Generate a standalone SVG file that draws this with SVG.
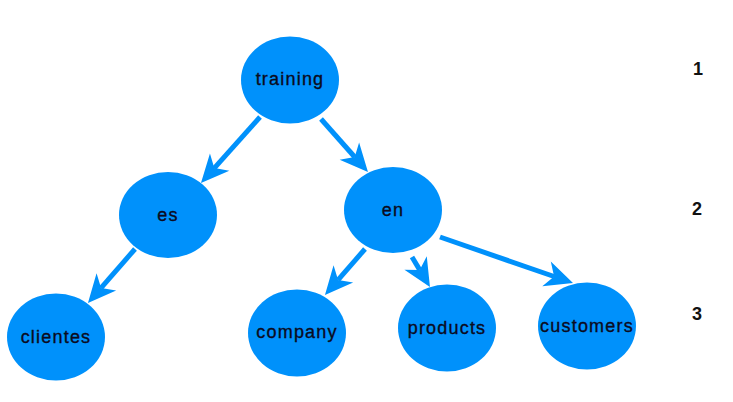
<svg xmlns="http://www.w3.org/2000/svg" width="733" height="402" viewBox="0 0 733 402">
<style>
.node ellipse{fill:#0091fb;}
.node text{font-family:"Liberation Sans",Arial,sans-serif;font-size:18px;letter-spacing:1.2px;fill:#0b0b1e;stroke:#0b0b1e;stroke-width:0.35;text-anchor:middle;}
.edge{stroke:#0091fb;stroke-width:5;fill:none;marker-end:url(#arr);}
.lvl{font-family:"Liberation Sans",Arial,sans-serif;font-size:18px;font-weight:bold;fill:#111;text-anchor:middle;}
</style>
<defs>
<marker id="arr" markerUnits="userSpaceOnUse" markerWidth="40" markerHeight="40" refX="8" refY="0" orient="auto" overflow="visible">
<path d="M0,-13 L28,0 L0,13 L8,0 Z" fill="#0091fb"/>
</marker>
</defs>
<rect width="733" height="402" fill="#fff"/>
<g id="connectors">
<line class="edge" x1="260" y1="117" x2="214.3" y2="168.1"/>
<line class="edge" x1="321" y1="119" x2="354.7" y2="157"/>
<line class="edge" x1="135" y1="249" x2="101.1" y2="287.9"/>
<line class="edge" x1="365" y1="249" x2="338.1" y2="279.9"/>
<line class="edge" x1="412" y1="257" x2="419.7" y2="269.9"/>
<line class="edge" x1="440" y1="237" x2="554.1" y2="276.5"/>
</g>
<g id="training" class="node"><ellipse cx="290" cy="80" rx="49" ry="43.5"/><text x="290" y="85">training</text></g>
<g id="es" class="node"><ellipse cx="168" cy="215" rx="49" ry="43"/><text x="168" y="221">es</text></g>
<g id="en" class="node"><ellipse cx="393" cy="210" rx="49" ry="43"/><text x="393" y="216">en</text></g>
<g id="clientes" class="node"><ellipse cx="56" cy="337" rx="49" ry="43.5"/><text x="56" y="343">clientes</text></g>
<g id="company" class="node"><ellipse cx="297" cy="333" rx="49" ry="43.5"/><text x="297" y="338">company</text></g>
<g id="products" class="node"><ellipse cx="447" cy="328" rx="49" ry="43.5"/><text x="447" y="334">products</text></g>
<g id="customers" class="node"><ellipse cx="587" cy="326" rx="49" ry="43.5"/><text x="587" y="332">customers</text></g>
<g id="levels">
<text class="lvl" x="698" y="75">1</text>
<text class="lvl" x="697" y="215">2</text>
<text class="lvl" x="697" y="320">3</text>
</g>
</svg>
